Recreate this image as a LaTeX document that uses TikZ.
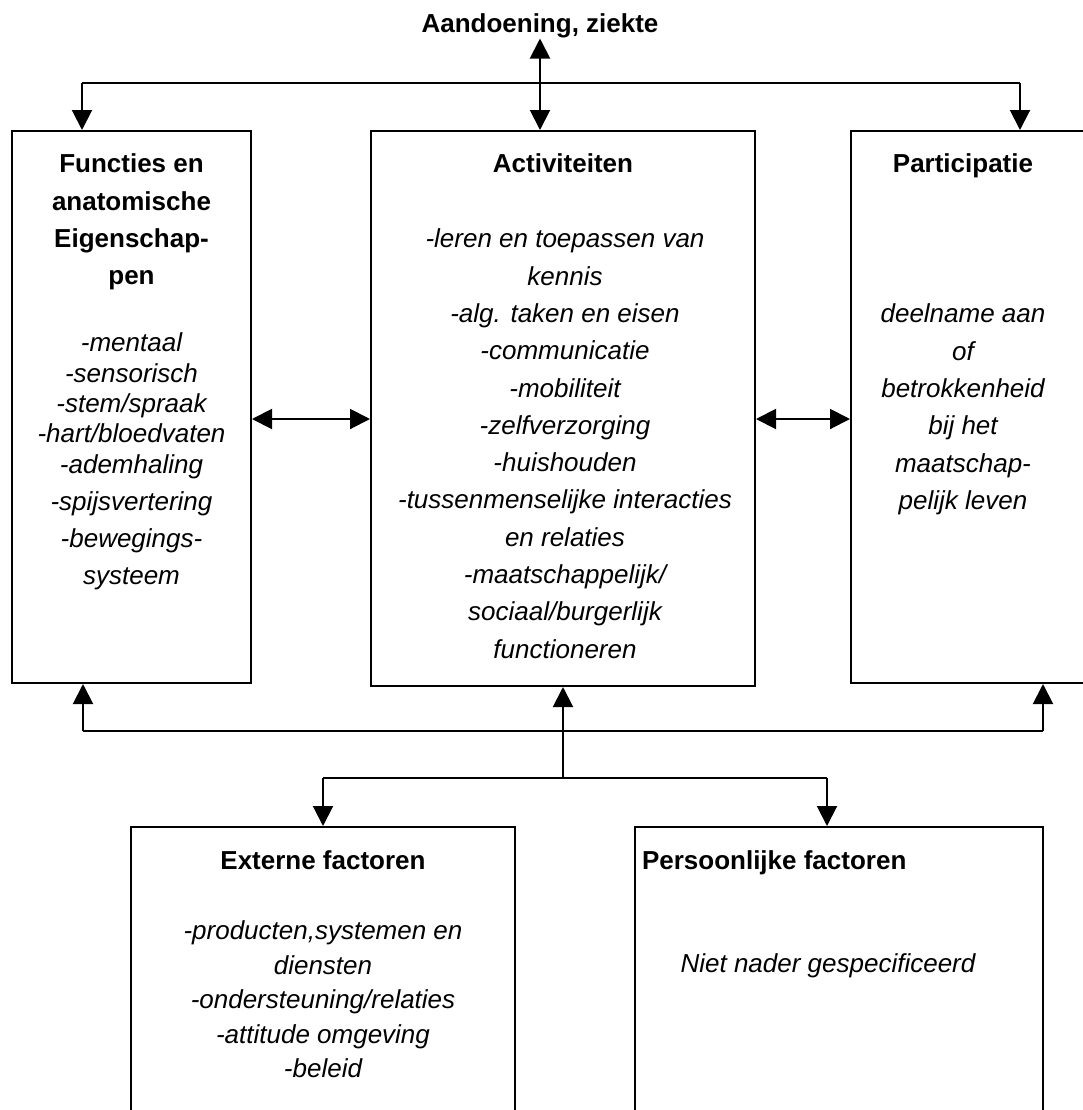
\documentclass[tikz,border=0pt]{standalone}
\usepackage{fontspec}
\setmainfont{Liberation Sans}
\usetikzlibrary{arrows.meta}
\begin{document}
\begin{tikzpicture}[x=0.5pt,y=-0.5pt,line width=1pt,
    box/.style={draw,rectangle,inner sep=0pt},
    head/.style={inner sep=0pt,anchor=north,align=center,font=\fontsize{13}{18.65}\selectfont\bfseries},
    body/.style={inner sep=0pt,anchor=north,align=center,font=\fontsize{13}{18.65}\selectfont\itshape},
    arr/.style={-{Triangle[length=10pt,width=10pt]}},
    arrs/.style={{Triangle[length=10pt,width=10pt]}-{Triangle[length=10pt,width=10pt]}}]
  \useasboundingbox (0,0) rectangle (1083,1110);
  \clip (0,0) rectangle (1083,1110);
  \fill[white] (0,0) rectangle (1083,1110);
  % boxes
  \node[box,minimum width=119.5pt,minimum height=276pt] (lbox) at (131.5,407) {};
  \node[box,minimum width=192pt,minimum height=277.5pt] (mbox) at (563,408.5) {};
  \node[box,minimum width=124.5pt,minimum height=276pt] (rbox) at (975.5,407) {};
  \node[box,minimum width=192pt,minimum height=166.5pt] (ebox) at (323,993.5) {};
  \node[box,minimum width=204pt,minimum height=166.5pt] (pbox) at (839,993.5) {};
  % texts
  \node[inner sep=0pt,anchor=base,font=\fontsize{13}{15}\selectfont\bfseries] (title) at (540,32) {Aandoening, ziekte};
  \node[head] (lhead) at (131.5,153) {Functies en\\anatomische\\Eigenschap-\\pen};
  \node[body,font=\fontsize{13}{15.15}\selectfont\itshape] (ltext) at (131.5,332)
    {-mentaal\\-sensorisch\\-stem/spraak\\-hart/bloedvaten\\-ademhaling\\[3.35pt]-spijsvertering\\[3.35pt]-bewegings-\\[3.35pt]systeem};
  \node[head] (mhead) at (563,153) {Activiteiten};
  \node[body] (mtext) at (565,228)
    {-leren en toepassen van\\kennis\\-alg. taken en eisen\\-communicatie\\-mobiliteit\\-zelfverzorging\\-huishouden\\-tussenmenselijke interacties\\en relaties\\-maatschappelijk/\\sociaal/burgerlijk\\functioneren};
  \node[head] (rhead) at (963,153) {Participatie};
  \node[body] (rtext) at (963,303)
    {deelname aan\\of\\betrokkenheid\\bij het\\maatschap-\\pelijk leven};
  \node[head] (ehead) at (323,850) {Externe factoren};
  \node[body,font=\fontsize{13}{17.25}\selectfont\itshape] (etext) at (323,920)
    {-producten,systemen en\\diensten\\-ondersteuning/relaties\\-attitude omgeving\\-beleid};
  \node[head,anchor=north west] (phead) at (641,850) {Persoonlijke factoren};
  \node[body] (ptext) at (828,953) {Niet nader gespecificeerd};
  % junctions
  \coordinate (topL) at (82,83);
  \coordinate (topR) at (1020,83);
  \coordinate (midY) at (0,419);
  \coordinate (botL) at (83,731);
  \coordinate (botM) at (563,731);
  \coordinate (botR) at (1043,731);
  \coordinate (splM) at (563,778);
  \coordinate (splL) at (323,778);
  \coordinate (splR) at (827,778);
  % connectors
  \draw[arrs] (title.south) -- (mbox.north -| title.south);
  \draw (topL) -- (topR);
  \draw[arr] (topL) -- (lbox.north -| topL);
  \draw[arr] (topR) -- (rbox.north -| topR);
  \draw[arrs] (lbox.east |- midY) -- (mbox.west |- midY);
  \draw[arrs] (mbox.east |- midY) -- (rbox.west |- midY);
  \draw (botL) -- (botR);
  \draw[arr] (botL) -- (lbox.south -| botL);
  \draw[arr] (botR) -- (rbox.south -| botR);
  \draw[arr] (splM) -- (mbox.south);
  \draw (splL) -- (splR);
  \draw[arr] (splL) -- (ebox.north -| splL);
  \draw[arr] (splR) -- (pbox.north -| splR);
\end{tikzpicture}
\end{document}
